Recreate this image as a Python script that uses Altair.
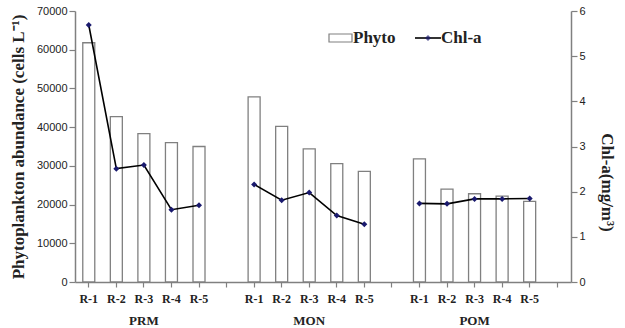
import altair as alt
import pandas as pd

groups = ["PRM", "MON", "POM"]
sites = ["R-1", "R-2", "R-3", "R-4", "R-5"]
phyto = {
    "PRM": [61800, 42700, 38300, 36000, 35000],
    "MON": [47800, 40200, 34400, 30600, 28600],
    "POM": [31800, 24000, 22800, 22200, 20800],
}
chla = {
    "PRM": [5.69, 2.51, 2.59, 1.60, 1.70],
    "MON": [2.16, 1.81, 1.98, 1.47, 1.28],
    "POM": [1.74, 1.73, 1.84, 1.84, 1.85],
}

domain = []
for gi, g in enumerate(groups):
    for s in sites:
        domain.append(f"{g}|{s}")
    domain.append(f"gap{gi}")

rows = []
for g in groups:
    for i, s in enumerate(sites):
        rows.append({"key": f"{g}|{s}", "group": g, "site": s,
                     "phyto": phyto[g][i], "chla": chla[g][i]})
df = pd.DataFrame(rows)
grp_df = pd.DataFrame({"key": [f"{g}|R-3" for g in groups], "label": groups})

W, H = 496, 271
serif = "Liberation Serif"
sans = "Liberation Sans"
gray = "#808080"

xscale = alt.Scale(domain=domain, paddingInner=0, paddingOuter=0)
xaxis = alt.Axis(
    title=None, labelAngle=0,
    labelExpr="indexof(datum.value,'gap')>=0 ? '' : split(datum.value,'|')[1]",
    labelFont=serif, labelFontWeight="bold", labelFontSize=12, labelColor="#222",
    domainColor=gray, domainWidth=1.5, tickColor=gray, tickWidth=1.2, tickSize=5,
    labelPadding=6,
)

bars = alt.Chart(df).mark_bar(size=12, fill="white", stroke=gray, strokeWidth=1.3).encode(
    x=alt.X("key:N", scale=xscale, axis=xaxis),
    y=alt.Y("phyto:Q", scale=alt.Scale(domain=[0, 70000]),
            axis=alt.Axis(title="Phytoplankton abundance (cells L\u207B\u00B9)",
                          values=list(range(0, 70001, 10000)), format="d",
                          labelFont=sans, labelFontSize=11, labelColor="#222",
                          titleFont=serif, titleFontSize=17, titleFontWeight="bold",
                          titleColor="#222", titlePadding=9,
                          domainColor=gray, domainWidth=1.5, tickColor=gray,
                          tickWidth=1.2, tickSize=6, grid=False)),
)

line = alt.Chart(df).mark_line(color="black", strokeWidth=1.6, point=alt.OverlayMarkDef(
    shape="diamond", size=36, fill="#1a1a6e", color="#1a1a6e")).encode(
    x=alt.X("key:N", scale=xscale),
    y=alt.Y("chla:Q", scale=alt.Scale(domain=[0, 6]),
            axis=alt.Axis(title="Chl-a(mg/m\u00B3)", orient="right", values=[0, 1, 2, 3, 4, 5, 6],
                          labelFont=sans, labelFontSize=11, labelColor="#222",
                          titleFont=serif, titleFontSize=17, titleFontWeight="bold",
                          titleColor="#222", titlePadding=12, titleY=171, titleAlign="center",
                          domainColor=gray, domainWidth=1.5, tickColor=gray,
                          tickWidth=1.2, tickSize=6, grid=False)),
    detail="group:N",
)

grp_text = alt.Chart(grp_df).mark_text(font=serif, fontWeight="bold", fontSize=13,
                                       color="#222").encode(
    x=alt.X("key:N", scale=xscale),
    y=alt.value(H + 39),
    text="label:N",
)

leg = pd.DataFrame({"a": [0]})
leg_box = alt.Chart(leg).mark_rect(fill="white", stroke=gray, strokeWidth=1.2).encode(
    x=alt.value(254), x2=alt.value(277), y=alt.value(23), y2=alt.value(31))
leg_phyto = alt.Chart(leg).mark_text(text="Phyto", font=serif, fontWeight="bold", fontSize=17,
                                     align="left", baseline="middle", color="#222").encode(
    x=alt.value(278), y=alt.value(27))
leg_rule = alt.Chart(leg).mark_rule(color="black", strokeWidth=1.6).encode(
    x=alt.value(340), x2=alt.value(366), y=alt.value(27))
leg_pt = alt.Chart(leg).mark_point(shape="diamond", size=36, filled=True, color="#1a1a6e").encode(
    x=alt.value(353), y=alt.value(27))
leg_chl = alt.Chart(leg).mark_text(text="Chl-a", font=serif, fontWeight="bold", fontSize=17,
                                   align="left", baseline="middle", color="#222").encode(
    x=alt.value(366), y=alt.value(27))

chart = alt.layer(bars, line, grp_text, leg_box, leg_phyto, leg_rule, leg_pt, leg_chl).resolve_scale(
    y="independent"
).properties(
    width=W, height=H,
    autosize=alt.AutoSizeParams(type="none"),
    padding={"left": 75, "top": 11, "right": 54, "bottom": 46},
    background="white",
).configure_view(stroke=None)

chart.save("out.html", embed_options={"renderer": "svg", "actions": False})
